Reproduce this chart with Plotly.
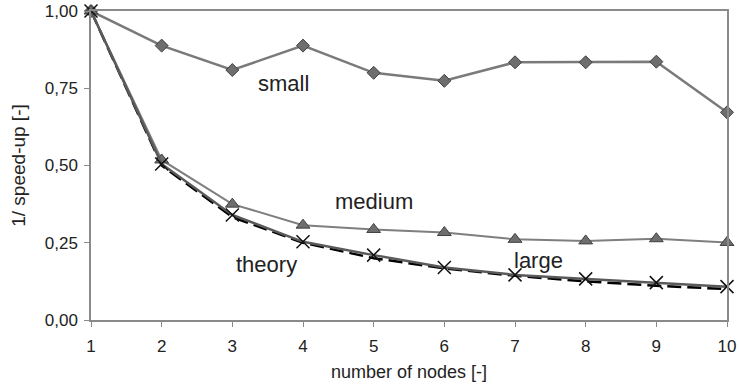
import plotly.graph_objects as go

nodes = [1, 2, 3, 4, 5, 6, 7, 8, 9, 10]
small = [1.00, 0.888, 0.809, 0.888, 0.800, 0.774, 0.834, 0.834, 0.836, 0.672]
medium = [1.00, 0.518, 0.375, 0.307, 0.293, 0.283, 0.261, 0.256, 0.263, 0.251]
large = [1.00, 0.505, 0.340, 0.253, 0.210, 0.170, 0.146, 0.133, 0.121, 0.108]
theory = [1.00, 0.500, 0.333, 0.250, 0.200, 0.167, 0.143, 0.125, 0.111, 0.100]
y_ticks = [0.0, 0.25, 0.5, 0.75, 1.0]

labels = [("small", 3.73, 0.767), ("medium", 5.00, 0.383),
          ("theory", 3.48, 0.181), ("large", 7.33, 0.191)]

FONT = "Liberation Sans"
TXT = "#222222"

fig = go.Figure()
fig.add_trace(go.Scatter(x=nodes, y=theory, mode="lines",
                         line=dict(color="black", width=2.5, dash="14px,6px"),
                         cliponaxis=False))
fig.add_trace(go.Scatter(x=nodes, y=small, mode="lines+markers",
                         line=dict(color="#7a7a7a", width=2.5),
                         marker=dict(symbol="diamond", size=10, color="#6e6e6e",
                                     line=dict(color="#404040", width=1)),
                         cliponaxis=False))
fig.add_trace(go.Scatter(x=nodes, y=medium, mode="lines+markers",
                         line=dict(color="#7f7f7f", width=2),
                         marker=dict(symbol="triangle-up", size=12, color="#6e6e6e",
                                     line=dict(color="#404040", width=1)),
                         cliponaxis=False))
fig.add_trace(go.Scatter(x=nodes, y=large, mode="lines+markers",
                         line=dict(color="#5a5a5a", width=2.5),
                         marker=dict(symbol="x-thin", size=13, color="black",
                                     line=dict(color="#111111", width=1.5)),
                         cliponaxis=False))

for text, xv, yv in labels:
    fig.add_annotation(x=xv, y=yv, text=text, showarrow=False,
                       font=dict(size=22, color=TXT, family=FONT))

axis_common = dict(showline=True, linecolor="#8a8a8a", linewidth=1.5, mirror=True,
                   ticks="outside", ticklen=5, tickcolor="#8a8a8a", tickwidth=1,
                   showgrid=False, zeroline=False, automargin=False,
                   tickfont=dict(size=17, color=TXT, family=FONT))

fig.update_xaxes(range=[1, 10], tickvals=nodes, ticklabelstandoff=5,
                 title=dict(text="number of nodes [-]", standoff=10,
                            font=dict(size=18, color=TXT, family=FONT)),
                 **axis_common)
fig.update_yaxes(range=[0, 1], tickvals=y_ticks, tickformat=".2f", ticklabelstandoff=3,
                 title=dict(text="1/ speed-up [-]", standoff=14,
                            font=dict(size=19, color=TXT, family=FONT)),
                 **axis_common)

fig.update_layout(width=739, height=388, separators=",.",
                  margin=dict(l=91, r=12, t=11, b=68),
                  plot_bgcolor="white", paper_bgcolor="white",
                  showlegend=False)

fig.write_html("out.html")
